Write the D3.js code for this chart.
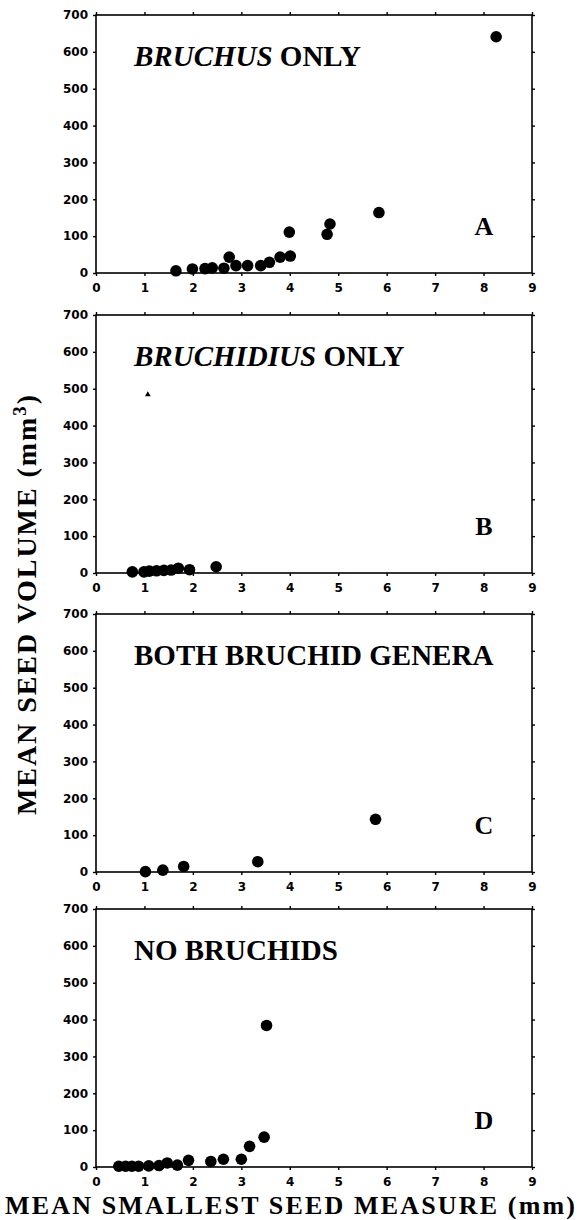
<!DOCTYPE html>
<html>
<head>
<meta charset="utf-8">
<script src="https://cdn.jsdelivr.net/npm/d3@7"></script>
<style>
  body { margin: 0; background: #fff; }
  svg { display: block; }
</style>
</head>
<body>
<div id="chart"></div>
<script>
// mean smallest seed measure (mm), mean seed volume (mm3)
const bruchusOnly = [
    [1.65, 6], [1.99, 11], [2.25, 12], [2.40, 14], [2.64, 13], [2.75, 43],
    [2.89, 20], [3.13, 20], [3.40, 20], [3.58, 29], [3.80, 43], [4.01, 46],
    [3.99, 111], [4.77, 105], [4.83, 133], [5.84, 164], [8.26, 641]
];
const bruchidiusOnly = [
    [0.75, 3], [0.99, 3], [1.10, 5], [1.25, 6], [1.40, 7], [1.55, 8],
    [1.70, 13], [1.93, 9], [2.48, 17]
];
const bruchidiusOdd = [[1.07, 484]];
const bothGenera = [
    [1.02, 1], [1.38, 5], [1.81, 15], [3.34, 28], [5.77, 143]
];
const noBruchids = [
    [0.47, 2], [0.61, 2], [0.74, 2], [0.88, 2], [1.09, 3], [1.30, 4],
    [1.47, 11], [1.68, 5], [1.91, 18], [2.37, 15], [2.63, 21], [3.00, 21],
    [3.17, 56], [3.47, 81], [3.52, 384]
];

const xTicks = [0, 1, 2, 3, 4, 5, 6, 7, 8, 9];
const yTicks = [0, 100, 200, 300, 400, 500, 600, 700];

const panels = [
    { title: [["BRUCHUS", true], [" ONLY", false]], letter: "A", dots: bruchusOnly, tris: [] },
    { title: [["BRUCHIDIUS", true], [" ONLY", false]], letter: "B", dots: bruchidiusOnly, tris: bruchidiusOdd },
    { title: [["BOTH BRUCHID GENERA", false]], letter: "C", dots: bothGenera, tris: [] },
    { title: [["NO BRUCHIDS", false]], letter: "D", dots: noBruchids, tris: [] }
];

const width = 582, height = 1220;
const tops = [15, 315, 614, 909];
const panelH = 258;
const left = 96, right = 532;
const serif = "'Liberation Serif', 'Times New Roman', serif";
const sans = "'DejaVu Sans', Verdana, sans-serif";

const svg = d3.select("#chart")
    .append("svg")
    .attr("width", width)
    .attr("height", height);

const x = d3.scaleLinear().domain([0, 9]).range([left, right]);

panels.forEach((p, i) => {
    const top = tops[i];
    const y = d3.scaleLinear().domain([0, 700]).range([top + panelH, top]);
    const g = svg.append("g");

    // frame
    g.append("rect")
        .attr("x", left).attr("y", top)
        .attr("width", right - left).attr("height", panelH)
        .attr("fill", "none").attr("stroke", "#000").attr("stroke-width", 1.6);

    const styleAxis = a => {
        a.select(".domain").remove();
        a.selectAll("line").attr("stroke", "#000").attr("stroke-width", 1.4);
        a.selectAll("text")
            .attr("font-family", sans)
            .attr("font-weight", "bold")
            .attr("font-size", 12)
            .attr("fill", "#000");
    };

    g.append("g")
        .attr("transform", `translate(0,${top + panelH})`)
        .call(d3.axisBottom(x).tickValues(xTicks).tickSize(3).tickPadding(7).tickFormat(d3.format("d")))
        .call(styleAxis);
    g.append("g")
        .attr("transform", `translate(${left},0)`)
        .call(d3.axisLeft(y).tickValues(yTicks).tickSize(3).tickPadding(5).tickFormat(d3.format("d")))
        .call(styleAxis);
    g.append("g")
        .attr("transform", `translate(0,${top})`)
        .call(d3.axisTop(x).tickValues(xTicks).tickSize(3).tickFormat(""))
        .call(styleAxis);
    g.append("g")
        .attr("transform", `translate(${right},0)`)
        .call(d3.axisRight(y).tickValues(yTicks).tickSize(3).tickFormat(""))
        .call(styleAxis);

    // points
    g.selectAll("circle.pt")
        .data(p.dots)
        .enter()
        .append("circle")
        .attr("class", "pt")
        .attr("cx", d => x(d[0]))
        .attr("cy", d => y(d[1]))
        .attr("r", 5.8)
        .attr("fill", "#000");

    g.selectAll("path.tri")
        .data(p.tris)
        .enter()
        .append("path")
        .attr("class", "tri")
        .attr("d", d3.symbol().type(d3.symbolTriangle).size(14))
        .attr("transform", d => `translate(${x(d[0])},${y(d[1])})`)
        .attr("fill", "#000");

    // panel title
    const t = g.append("text")
        .attr("x", left + 38)
        .attr("y", top + 51)
        .attr("font-family", serif)
        .attr("font-weight", "bold")
        .attr("font-size", 29)
        .attr("fill", "#000")
        .style("white-space", "pre");
    p.title.forEach(([s, it]) => {
        t.append("tspan")
            .attr("font-style", it ? "italic" : "normal")
            .text(s);
    });

    g.append("text")
        .attr("x", right - 48)
        .attr("y", top + 220)
        .attr("text-anchor", "middle")
        .attr("font-family", serif)
        .attr("font-weight", "bold")
        .attr("font-size", 26)
        .attr("fill", "#000")
        .text(p.letter);
});

// axis titles
svg.append("text")
    .attr("x", 5)
    .attr("y", 1214)
    .attr("font-family", serif)
    .attr("font-weight", "bold")
    .attr("font-size", 26)
    .attr("textLength", 570)
    .attr("lengthAdjust", "spacing")
    .attr("fill", "#000")
    .style("white-space", "pre")
    .text("MEAN SMALLEST SEED MEASURE (mm)");

const yt = svg.append("text")
    .attr("transform", "translate(36,815) rotate(-90)")
    .attr("font-family", serif)
    .attr("font-weight", "bold")
    .attr("font-size", 28)
    .attr("textLength", 420)
    .attr("lengthAdjust", "spacing")
    .attr("fill", "#000");
yt.append("tspan").text("MEAN SEED VOLUME (mm");
yt.append("tspan").attr("font-size", 19).attr("dy", -10).text("3");
yt.append("tspan").attr("dy", 10).text(")");
</script>
</body>
</html>
